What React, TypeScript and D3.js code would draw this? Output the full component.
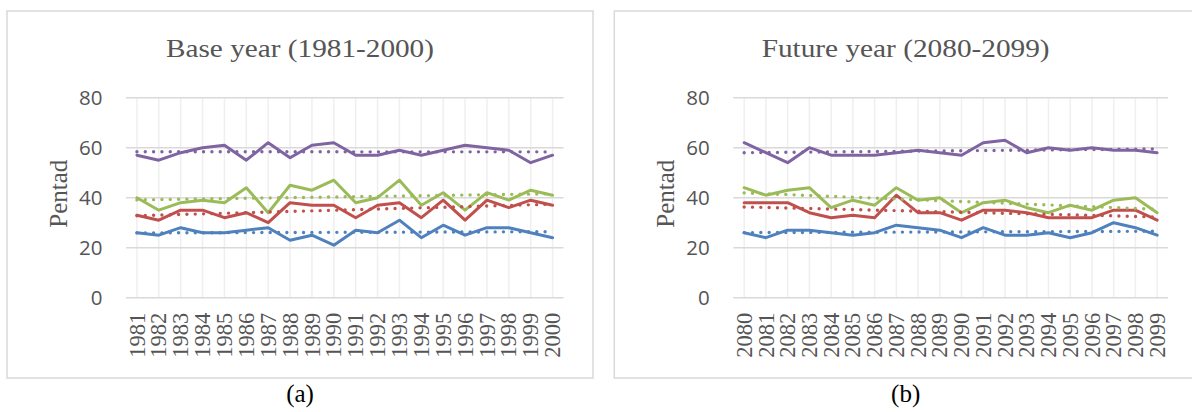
import React from 'react';
import * as d3 from 'd3';

// categories
const baseYears = ['1981', '1982', '1983', '1984', '1985', '1986', '1987', '1988', '1989', '1990',
  '1991', '1992', '1993', '1994', '1995', '1996', '1997', '1998', '1999', '2000'];
const futureYears = ['2080', '2081', '2082', '2083', '2084', '2085', '2086', '2087', '2088', '2089',
  '2090', '2091', '2092', '2093', '2094', '2095', '2096', '2097', '2098', '2099'];

// base period series (pentad)
const baseBlue = [26, 25, 28, 26, 26, 27, 28, 23, 25, 21, 27, 26, 31, 24, 29, 25, 28, 28, 26, 24];
const baseRed = [33, 31, 35, 35, 32, 34, 30, 38, 37, 37, 32, 37, 38, 32, 39, 31, 39, 36, 39, 37];
const baseGreen = [40, 35, 38, 39, 38, 44, 34, 45, 43, 47, 38, 40, 47, 37, 42, 35, 42, 39, 43, 41];
const basePurple = [57, 55, 58, 60, 61, 55, 62, 56, 61, 62, 57, 57, 59, 57, 59, 61, 60, 59, 54, 57];

// future period series (pentad)
const futBlue = [26, 24, 27, 27, 26, 25, 26, 29, 28, 27, 24, 28, 25, 25, 26, 24, 26, 30, 28, 25];
const futRed = [38, 38, 38, 34, 32, 33, 32, 41, 34, 34, 31, 35, 35, 34, 32, 32, 32, 35, 35, 31];
const futGreen = [44, 41, 43, 44, 36, 39, 37, 44, 39, 40, 34, 38, 39, 36, 34, 37, 35, 39, 40, 34];
const futPurple = [62, 58, 54, 60, 57, 57, 57, 58, 59, 58, 57, 62, 63, 58, 60, 59, 60, 59, 59, 58];

const yTicks = [0, 20, 40, 60, 80];
const colors = ['#4F81BD', '#C0504D', '#9BBB59', '#8064A2'];

const serif = '"Liberation Serif", "Times New Roman", serif';
const sans = '"Open Sans", "Noto Sans", sans-serif';
const textGrey = '#555555';

// least squares trendline, x = 1..n like Excel
function trend(vals: number[]) {
  const n = vals.length;
  const xs = vals.map((_, i) => i + 1);
  const mx = d3.mean(xs) as number;
  const my = d3.mean(vals) as number;
  const sxy = d3.sum(xs, (x, i) => (x - mx) * (vals[i] - my));
  const sxx = d3.sum(xs, (x) => (x - mx) * (x - mx));
  const b = sxy / sxx;
  const a = my - b * mx;
  return [a + b * 1, a + b * n];
}

type PanelProps = {
  ax0: number; ax1: number; px0: number; px1: number;
  title: string; titleLen: number; caption: string;
  cats: string[]; series: number[][];
};

const Panel = ({ ax0, ax1, px0, px1, title, titleLen, caption, cats, series }: PanelProps) => {
  const top = 97.7;
  const bottom = 297.7;
  const x = d3.scalePoint<string>().domain(cats).range([px0, px1]).padding(0.5);
  const y = d3.scaleLinear().domain([0, 80]).range([bottom, top]);
  const line = d3.line<number>().x((d, i) => x(cats[i]) as number).y((d) => y(d));
  const cx = (ax0 + ax1) / 2;

  return (
    <g>
      <rect x={ax0} y={11} width={ax1 - ax0} height={367} fill="#fff" stroke="#D9D9D9" strokeWidth={1.5} />
      <text x={cx} y={57} textAnchor="middle" fontFamily={serif} fontSize={26} fill={textGrey}
        textLength={titleLen} lengthAdjust="spacingAndGlyphs">{title}</text>

      {/* vertical gridlines */}
      {cats.map((c) => (
        <line key={c} x1={x(c)} x2={x(c)} y1={top} y2={bottom} stroke="#EFEFEF" strokeWidth={1.5} />
      ))}
      {/* horizontal gridlines */}
      {yTicks.map((t) => (
        <line key={t} x1={px0} x2={px1} y1={y(t)} y2={y(t)} stroke="#D9D9D9" strokeWidth={1.5} />
      ))}
      {yTicks.map((t) => (
        <text key={t} x={px0 - 23.5} y={y(t)} dy="0.36em" textAnchor="end" fontFamily={sans}
          fontSize={20.5} fill={textGrey}>{t}</text>
      ))}
      <text transform={`translate(${px0 - 59.5},${(top + bottom) / 2 - 4}) rotate(-90)`} textAnchor="middle"
        fontFamily={serif} fontSize={25} fill={textGrey}>Pentad</text>

      {cats.map((c) => (
        <text key={c} transform={`translate(${x(c)},${bottom + 15}) rotate(-90)`} dy="0.34em"
          textAnchor="end" fontFamily={serif} fontSize={22.5} fill={textGrey}>{c}</text>
      ))}

      {series.map((s, i) => (
        <path key={i} d={line(s) as string} fill="none" stroke={colors[i]} strokeWidth={3}
          strokeLinejoin="round" strokeLinecap="round" />
      ))}
      {series.map((s, i) => {
        const [a, b] = trend(s);
        return (
          <line key={'t' + i} x1={x(cats[0])} x2={x(cats[cats.length - 1])} y1={y(a)} y2={y(b)}
            stroke={colors[i]} strokeWidth={3.4} strokeLinecap="round" strokeDasharray="0 8.33" />
        );
      })}

      <text x={cx} y={402} textAnchor="middle" fontFamily={serif} fontSize={25} fill="#000">{caption}</text>
    </g>
  );
};

const App = () => {
  return (
    <svg width={1192} height={412} style={{ position: 'absolute', left: 0, top: 0, background: '#fff' }}>
      <rect width={1192} height={412} fill="#fff" />
      <Panel ax0={7} ax1={593} px0={126} px1={563.5} title="Base year (1981-2000)" titleLen={268}
        caption="(a)" cats={baseYears} series={[baseBlue, baseRed, baseGreen, basePurple]} />
      <Panel ax0={614.3} ax1={1197} px0={733.3} px1={1168} title="Future year (2080-2099)" titleLen={288}
        caption="(b)" cats={futureYears} series={[futBlue, futRed, futGreen, futPurple]} />
    </svg>
  );
};

export default App;
